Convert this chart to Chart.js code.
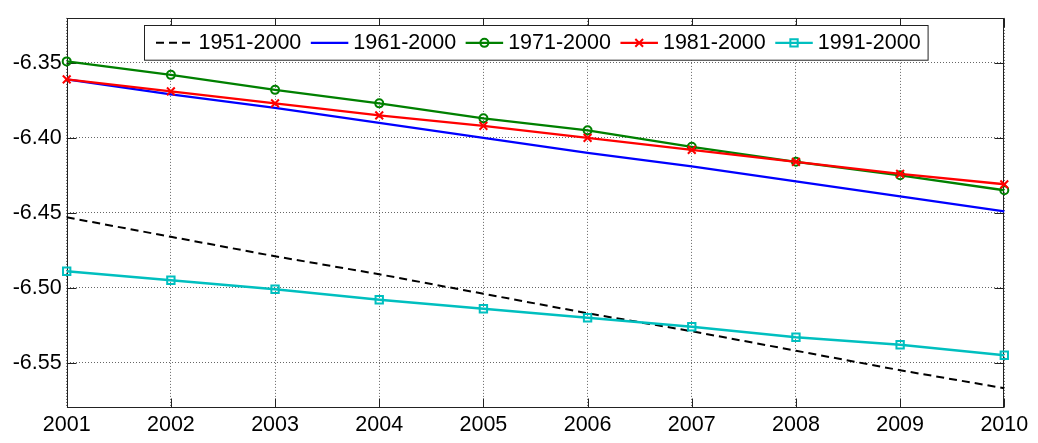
<!DOCTYPE html>
<html>
<head>
<meta charset="utf-8">
<script src="https://cdn.jsdelivr.net/npm/chart.js@4/dist/chart.umd.min.js"></script>
<style>
  html, body { margin: 0; padding: 0; background: #fff; }
  #wrap { width: 1038px; height: 443px; position: relative; }
</style>
</head>
<body>
<div id="wrap"><canvas id="c"></canvas></div>
<script>
// Years on the horizontal axis
const years = ['2001', '2002', '2003', '2004', '2005', '2006', '2007', '2008', '2009', '2010'];

// Series labels (reference periods)
const seriesLabels = ['1951-2000', '1961-2000', '1971-2000', '1981-2000', '1991-2000'];

// Series values
const s1951 = [-6.453, -6.466, -6.479, -6.491, -6.504, -6.517, -6.529, -6.542, -6.555, -6.567];
const s1961 = [-6.361, -6.371, -6.380, -6.390, -6.400, -6.410, -6.419, -6.429, -6.439, -6.449];
const s1971 = [-6.349, -6.358, -6.368, -6.377, -6.387, -6.395, -6.406, -6.416, -6.425, -6.435];
const s1981 = [-6.361, -6.369, -6.377, -6.385, -6.392, -6.400, -6.408, -6.416, -6.424, -6.431];
const s1991 = [-6.489, -6.495, -6.501, -6.508, -6.514, -6.520, -6.526, -6.533, -6.538, -6.545];

// Y axis tick values and range
const yTicks = [-6.55, -6.50, -6.45, -6.40, -6.35];
const yMin = -6.58;
const yMax = -6.32;

const FONT = '"Liberation Sans", Arial, Helvetica, sans-serif';
const FONT_SIZE = 21.5;
const FRAME = '#222';
const GRID = 'rgba(0,0,0,0.6)';

function lineSet(label, data, color, opts) {
  return Object.assign({
    label: label,
    data: data,
    borderColor: color,
    backgroundColor: color,
    borderWidth: 2.4,
    pointRadius: 0,
    pointHoverRadius: 0,
    pointBorderColor: color,
    pointBackgroundColor: 'rgba(0,0,0,0)',
    pointBorderWidth: 2,
    tension: 0,
    fill: false,
    clip: false
  }, opts);
}

const datasets = [
  lineSet(seriesLabels[0], s1951, '#000000', { borderDash: [8, 5], borderWidth: 2, order: 5 }),
  lineSet(seriesLabels[1], s1961, '#0000ff', { borderWidth: 2.2, order: 4 }),
  lineSet(seriesLabels[2], s1971, '#008000', { pointStyle: 'circle', pointRadius: 4, order: 3 }),
  lineSet(seriesLabels[3], s1981, '#ff0000', { pointStyle: 'crossRot', pointRadius: 5.5, order: 2 }),
  lineSet(seriesLabels[4], s1991, '#00bfbf', { pointStyle: 'rect', pointRadius: 5.2, order: 1 })
];

// Box around the plot area with inward tick marks on all four sides
const framePlugin = {
  id: 'frame',
  beforeDatasetsDraw(chart) {
    const { ctx, chartArea: a, scales: { x, y } } = chart;
    const L = Math.round(a.left) + 0.5, R = Math.round(a.right) - 0.5;
    const T = Math.round(a.top) + 0.5, B = Math.round(a.bottom) - 0.5;
    const tl = 9;
    ctx.save();
    ctx.strokeStyle = FRAME;
    ctx.lineWidth = 1;
    ctx.strokeRect(L, T, R - L, B - T);
    ctx.beginPath();
    x.ticks.forEach((t, i) => {
      const px = Math.round(x.getPixelForTick(i)) + 0.5;
      ctx.moveTo(px, B); ctx.lineTo(px, B - tl);
      ctx.moveTo(px, T); ctx.lineTo(px, T + tl);
    });
    y.ticks.forEach((t, i) => {
      const py = Math.round(y.getPixelForTick(i)) + 0.5;
      ctx.moveTo(L, py); ctx.lineTo(L + tl, py);
      ctx.moveTo(R, py); ctx.lineTo(R - tl, py);
    });
    ctx.stroke();
    ctx.restore();
  }
};

// Boxed single-row legend inside the top of the plot area
const boxLegendPlugin = {
  id: 'boxLegend',
  afterDraw(chart) {
    const { ctx, chartArea: a } = chart;
    const sample = 37.5, gap = 5, between = 9.5, padL = 11.5, padR = 7.5, h = 34.7;
    ctx.save();
    ctx.font = FONT_SIZE + 'px ' + FONT;
    const items = chart.data.datasets.map(ds => ({ ds: ds, w: ctx.measureText(ds.label).width }));
    const total = padL + padR + items.reduce((s, it) => s + sample + gap + it.w, 0) + between * (items.length - 1);
    const left = Math.round((a.left + a.right) / 2 - total / 2) + 0.5;
    const top = Math.round(a.top + 7) + 0.5;
    ctx.fillStyle = '#fff';
    ctx.fillRect(left, top, total, h);
    ctx.strokeStyle = FRAME;
    ctx.lineWidth = 1;
    ctx.strokeRect(left, top, total, h);
    const cy = top + h / 2;
    let cx = left + padL;
    items.forEach(({ ds, w }) => {
      ctx.save();
      ctx.strokeStyle = ds.borderColor;
      ctx.lineWidth = ds.borderWidth;
      ctx.setLineDash(ds.borderDash || []);
      ctx.beginPath();
      ctx.moveTo(cx, cy);
      ctx.lineTo(cx + sample, cy);
      ctx.stroke();
      ctx.setLineDash([]);
      if (ds.pointRadius > 0) {
        ctx.strokeStyle = ds.pointBorderColor;
        ctx.fillStyle = 'rgba(0,0,0,0)';
        ctx.lineWidth = ds.pointBorderWidth;
        Chart.helpers.drawPoint(ctx, {
          pointStyle: ds.pointStyle,
          radius: ds.pointRadius,
          borderWidth: ds.pointBorderWidth,
          rotation: 0
        }, cx + sample / 2, cy);
      }
      ctx.restore();
      ctx.fillStyle = '#000';
      ctx.textAlign = 'left';
      ctx.textBaseline = 'middle';
      ctx.fillText(ds.label, cx + sample + gap, cy + 0.5);
      cx += sample + gap + w + between;
    });
    ctx.restore();
  }
};

new Chart(document.getElementById('c'), {
  type: 'line',
  data: { labels: years, datasets: datasets },
  options: {
    responsive: true,
    maintainAspectRatio: false,
    animation: false,
    events: [],
    layout: { padding: { left: 0, top: 5.3, right: 33.7, bottom: 0 } },
    plugins: {
      legend: { display: false },
      tooltip: { enabled: false }
    },
    scales: {
      x: {
        type: 'category',
        offset: false,
        border: { display: false, dash: [1, 2] },
        grid: {
          color: GRID,
          lineWidth: 1,
          drawTicks: false
        },
        ticks: {
          color: '#000',
          font: { family: FONT, size: FONT_SIZE },
          padding: 4,
          maxRotation: 0,
          autoSkip: false
        },
        afterFit(scale) { scale.height = 35.3; }
      },
      y: {
        type: 'linear',
        min: yMin,
        max: yMax,
        border: { display: false, dash: [1, 2] },
        grid: {
          color: GRID,
          lineWidth: 1,
          drawTicks: false
        },
        ticks: {
          color: '#000',
          font: { family: FONT, size: FONT_SIZE },
          padding: 5,
          callback: v => v.toFixed(2)
        },
        afterBuildTicks(scale) { scale.ticks = yTicks.map(v => ({ value: v })); },
        afterFit(scale) { scale.width = 66.7; }
      }
    }
  },
  plugins: [framePlugin, boxLegendPlugin]
});
</script>
</body>
</html>
